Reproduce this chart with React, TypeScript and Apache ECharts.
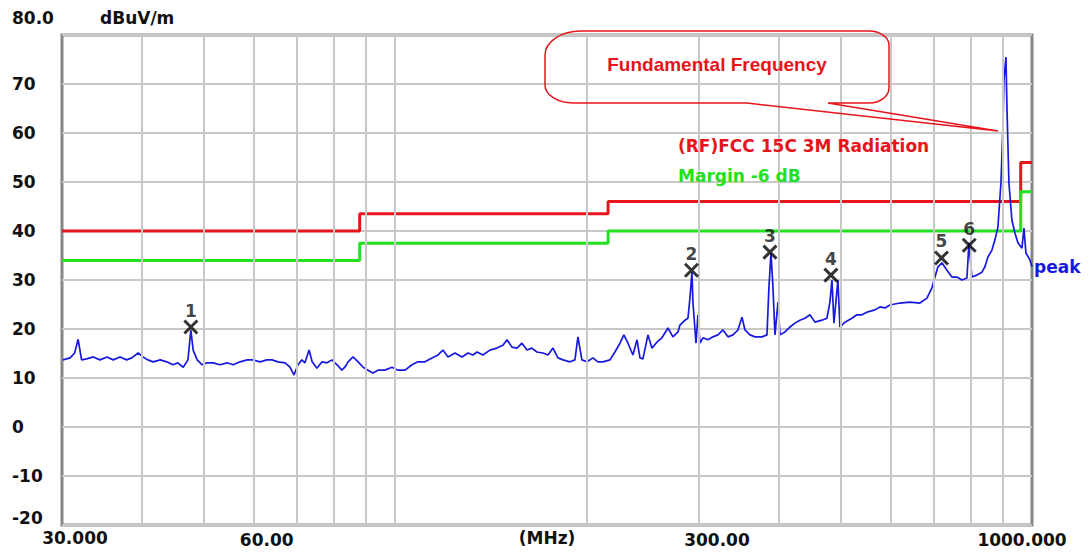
import React, { useEffect, useRef } from "react";
import * as echarts from "echarts";

// ---- data (MHz / dBuV/m) ----
const traceFreq = [
  30.1, 30.9, 31.4, 31.8, 32.2, 32.8, 33.6, 34.4, 35.3, 36.1,
  37.0, 37.9, 38.6, 39.5, 40.2, 40.9, 41.7, 42.8, 43.8, 44.8,
  45.6, 46.5, 47.3, 47.8, 48.2, 48.9, 49.8, 50.7, 51.8, 53.1,
  54.5, 55.7, 57.1, 58.6, 59.8, 61.4, 62.9, 64.1, 65.5, 67.2,
  68.4, 69.4, 70.4, 71.4, 72.2, 73.3, 74.1, 75.4, 76.8, 78.2,
  79.6, 81.1, 82.5, 83.4, 84.4, 85.9, 87.5, 89.1, 90.7, 92.3,
  94.0, 96.4, 98.9, 101.1, 103.7, 106.3, 108.6, 111.4, 114.3, 116.8,
  118.9, 121.1, 124.2, 127.4, 130.2, 132.5, 134.5, 137.4, 140.9, 144.5,
  147.7, 149.9, 152.6, 155.4, 158.2, 161.1, 164.0, 167.0, 170.7, 173.8,
  177.0, 180.2, 183.5, 188.2, 191.6, 193.7, 196.5, 200.1, 204.5, 208.2,
  212.0, 217.5, 221.4, 225.5, 228.7, 232.1, 236.3, 239.8, 242.4, 245.0,
  249.5, 253.1, 257.7, 262.4, 268.2, 273.1, 278.1, 280.1, 285.2, 288.3,
  290.4, 292.5, 293.6, 296.8, 298.9, 301.1, 304.4, 309.9, 315.6, 321.3,
  327.2, 333.2, 339.3, 345.4, 350.5, 354.3, 360.8, 367.3, 376.7, 383.6,
  386.4, 389.2, 392.0, 394.9, 399.2, 402.1, 409.4, 416.8, 424.5, 432.2,
  440.1, 448.1, 456.3, 468.0, 476.5, 481.7, 485.2, 488.7, 495.8, 499.4,
  508.5, 521.5, 531.1, 540.8, 552.6, 566.7, 577.1, 587.6, 598.3, 620.3,
  643.2, 666.9, 684.0, 696.5, 704.1, 711.8, 722.1, 735.3, 748.7, 762.4,
  776.3, 790.4, 796.2, 804.8, 819.5, 834.5, 843.5, 852.7, 865.2, 874.6,
  884.1, 893.8, 900.2, 903.5, 910.1, 913.4, 920.0, 930.0, 940.2, 950.4,
  964.3, 971.3, 978.3, 992.6, 1000,
];
const traceLevel = [
  13.7, 14.1, 15.1, 17.9, 13.7, 13.9, 14.3, 13.7, 14.3, 13.7,
  14.3, 13.7, 14.1, 15.1, 14.3, 13.7, 13.3, 13.7, 13.3, 12.7,
  13.1, 12.2, 13.7, 19.8, 15.7, 13.7, 12.7, 13.1, 13.1, 12.7,
  13.1, 12.7, 13.3, 13.7, 13.7, 13.3, 13.7, 13.7, 13.3, 13.1,
  12.2, 10.6, 12.7, 13.7, 13.1, 15.7, 13.3, 12.0, 13.3, 13.1,
  13.7, 12.7, 11.6, 12.2, 13.3, 14.3, 13.3, 12.2, 11.6, 11.0,
  11.6, 11.6, 12.2, 11.6, 11.6, 12.7, 13.3, 13.3, 14.1, 14.7,
  15.7, 14.3, 15.1, 14.3, 15.1, 14.7, 15.3, 14.7, 15.7, 16.1,
  16.7, 17.8, 16.3, 16.1, 17.1, 15.7, 16.1, 15.3, 15.1, 14.7,
  16.1, 14.1, 13.7, 13.3, 13.7, 18.4, 13.7, 13.3, 14.1, 13.3,
  13.3, 13.7, 15.3, 17.1, 18.8, 17.1, 14.7, 17.8, 14.1, 13.9,
  18.8, 16.1, 17.3, 18.2, 20.2, 18.4, 19.4, 20.8, 21.8, 22.2,
  26.3, 31.6, 25.3, 17.1, 22.9, 17.1, 18.2, 17.8, 18.4, 18.8,
  19.8, 18.4, 18.8, 19.8, 22.4, 19.8, 18.8, 18.4, 18.4, 18.8,
  28.6, 35.5, 28.6, 18.8, 25.5, 18.8, 19.4, 20.4, 21.2, 21.8,
  22.2, 22.9, 21.4, 21.8, 22.2, 25.5, 30.0, 21.2, 30.0, 20.4,
  21.4, 22.2, 22.9, 22.9, 23.5, 23.9, 24.5, 24.3, 24.9, 25.3,
  25.5, 25.3, 26.3, 28.4, 30.6, 32.7, 33.5, 32.0, 30.6, 30.6,
  30.0, 30.4, 37.6, 30.6, 31.0, 31.6, 32.7, 34.7, 36.1, 38.2,
  40.8, 49.8, 61.2, 70.8, 75.5, 65.3, 49.8, 42.2, 39.6, 37.6,
  36.5, 40.6, 35.5, 34.1, 32.7,
];

const limitFreq = [30, 88, 88, 216, 216, 960, 960, 1000];
const limitLevel = [40, 40, 43.5, 43.5, 46, 46, 54, 54];
const marginLevel = [34, 34, 37.5, 37.5, 40, 40, 48, 48];

const markerIds = ["1", "2", "3", "4", "5", "6"];
const markerFreq = [47.8, 292.0, 387.8, 483.4, 721.0, 797.0];
const markerLevel = [20.4, 32.0, 35.7, 31.0, 34.5, 37.1];

const gridFreqs = [40, 50, 60, 70, 80, 90, 100, 200, 300, 400, 500, 600, 700, 800, 900];
const xTickValues = [30, 60, 300, 1000];
const xTickLabels = ["30.000", "60.00", "300.00", "1000.000"];
const xTickShift = [13, 13, 18, -10];

const limitName = "(RF)FCC 15C 3M Radiation";
const marginName = "Margin -6 dB";
const calloutText = "Fundamental Frequency";

const FONT = '"DejaVu Sans", "Liberation Sans", sans-serif';
const BLUE = "#1818e0";
const RED = "#e8141c";
const GREEN = "#22e022";

echarts.graphic.registerShape(
  "callout",
  echarts.graphic.extendPath(
    "M581,31 L869,31 C880,31 889,37.3 889,45 L889,88 C889,96.3 880,103 869,103 L828,103 L998,131 L747,103 L573,103 C557.5,103 545,94.9 545,85 L545,55 C545,41.7 561.1,31 581,31 Z",
    {}
  )
);

export default function App() {
  const ref = useRef<HTMLDivElement>(null);

  useEffect(() => {
    if (!ref.current) return;
    const chart = echarts.init(ref.current, null, { renderer: "svg" });

    const richY = (pad: number) => ({
      fontFamily: FONT,
      fontSize: 17,
      fontWeight: "bold",
      color: "#111",
      padding: [0, 0, pad, 0],
    });

    chart.setOption({
      animation: false,
      backgroundColor: "#ffffff",
      grid: {
        left: 62,
        right: 58,
        top: 35,
        bottom: 30,
        show: true,
        borderColor: "#858585",
        borderWidth: 3,
        backgroundColor: "transparent",
      },
      xAxis: {
        type: "log",
        logBase: 10,
        min: 30,
        max: 1000,
        name: "(MHz)",
        nameLocation: "middle",
        nameGap: 4,
        nameTextStyle: {
          fontFamily: FONT,
          fontSize: 17,
          fontWeight: "bold",
          color: "#111",
          verticalAlign: "top",
        },
        axisLine: { show: false },
        axisTick: { show: false },
        axisLabel: { show: false },
        splitLine: { show: false },
      },
      yAxis: {
        type: "value",
        min: -20,
        max: 80,
        interval: 10,
        axisLine: { show: false },
        axisTick: { show: false },
        splitLine: { show: true, lineStyle: { color: "#c8c8c8", width: 2 } },
        axisLabel: {
          align: "left",
          margin: 50,
          fontFamily: FONT,
          fontSize: 17,
          fontWeight: "bold",
          color: "#111",
          formatter: (v: number) =>
            v === 80 ? "{t|80.0}" : v === -20 ? "{b|-20}" : "{n|" + v + "}",
          rich: { t: richY(34), b: richY(14), n: richY(0) },
        },
      },
      series: [
        {
          name: "vgrid",
          type: "line",
          data: [],
          silent: true,
          z: 1,
          markLine: {
            silent: true,
            symbol: ["none", "none"],
            label: { show: false },
            lineStyle: { color: "#c8c8c8", width: 2, type: "solid" },
            data: gridFreqs.map((f) => ({ xAxis: f })),
          },
        },
        {
          name: limitName,
          type: "line",
          z: 3,
          showSymbol: false,
          symbol: "none",
          lineStyle: { color: RED, width: 3 },
          data: limitFreq.map((f, i) => [f, limitLevel[i]]),
        },
        {
          name: marginName,
          type: "line",
          z: 3,
          showSymbol: false,
          symbol: "none",
          lineStyle: { color: GREEN, width: 3 },
          data: limitFreq.map((f, i) => [f, marginLevel[i]]),
        },
        {
          name: "peak",
          type: "line",
          z: 4,
          showSymbol: false,
          symbol: "none",
          lineStyle: { color: BLUE, width: 1.7 },
          data: traceFreq.map((f, i) => [f, traceLevel[i]]),
          endLabel: {
            show: true,
            formatter: "peak",
            distance: 2,
            fontFamily: FONT,
            fontSize: 17,
            fontWeight: "bold",
            color: BLUE,
          },
        },
        {
          name: "markers",
          type: "scatter",
          z: 5,
          symbol: "path://M0,0L12,12M12,0L0,12",
          symbolSize: 13,
          itemStyle: { color: "transparent", borderColor: "#000", borderWidth: 3 },
          data: markerFreq.map((f, i) => [f, markerLevel[i]]),
          label: {
            show: true,
            position: "top",
            distance: 0,
            formatter: (p: any) => markerIds[p.dataIndex],
            fontFamily: FONT,
            fontSize: 17,
            fontWeight: "bold",
            color: "#111",
          },
        },
      ],
    });

    const xGraphics = xTickValues.map((v, i) => {
      const px = chart.convertToPixel({ xAxisIndex: 0 }, v) as number;
      return {
        type: "text",
        x: px + xTickShift[i],
        y: i === 0 ? 538 : 540,
        silent: true,
        style: {
          text: xTickLabels[i],
          fill: "#111",
          font: `bold 17px ${FONT}`,
          align: "center",
          verticalAlign: "middle",
        },
      };
    });

    chart.setOption({
      graphic: [
        ...xGraphics,
        {
          type: "text",
          x: 100,
          y: 18,
          silent: true,
          style: {
            text: "dBuV/m",
            fill: "#111",
            font: `bold 17px ${FONT}`,
            align: "left",
            verticalAlign: "middle",
          },
        },
        {
          type: "callout",
          x: 0,
          y: 0,
          scaleX: 1,
          scaleY: 1,
          silent: true,
          z: 10,
          style: { fill: "none", stroke: RED, lineWidth: 1.5 },
        },
        {
          type: "text",
          x: 717,
          y: 64,
          silent: true,
          z: 10,
          style: {
            text: calloutText,
            fill: RED,
            font: 'bold 19px "Liberation Sans", Arial, sans-serif',
            align: "center",
            verticalAlign: "middle",
          },
        },
        {
          type: "text",
          x: 678,
          y: 146,
          silent: true,
          z: 10,
          style: {
            text: limitName,
            fill: RED,
            font: `bold 17px ${FONT}`,
            align: "left",
            verticalAlign: "middle",
          },
        },
        {
          type: "text",
          x: 678,
          y: 176,
          silent: true,
          z: 10,
          style: {
            text: marginName,
            fill: GREEN,
            font: `bold 17px ${FONT}`,
            align: "left",
            verticalAlign: "middle",
          },
        },
      ],
    });

    return () => chart.dispose();
  }, []);

  return (
    <div
      ref={ref}
      style={{ position: "fixed", left: 0, top: 0, width: 1090, height: 555, background: "#fff" }}
    />
  );
}
